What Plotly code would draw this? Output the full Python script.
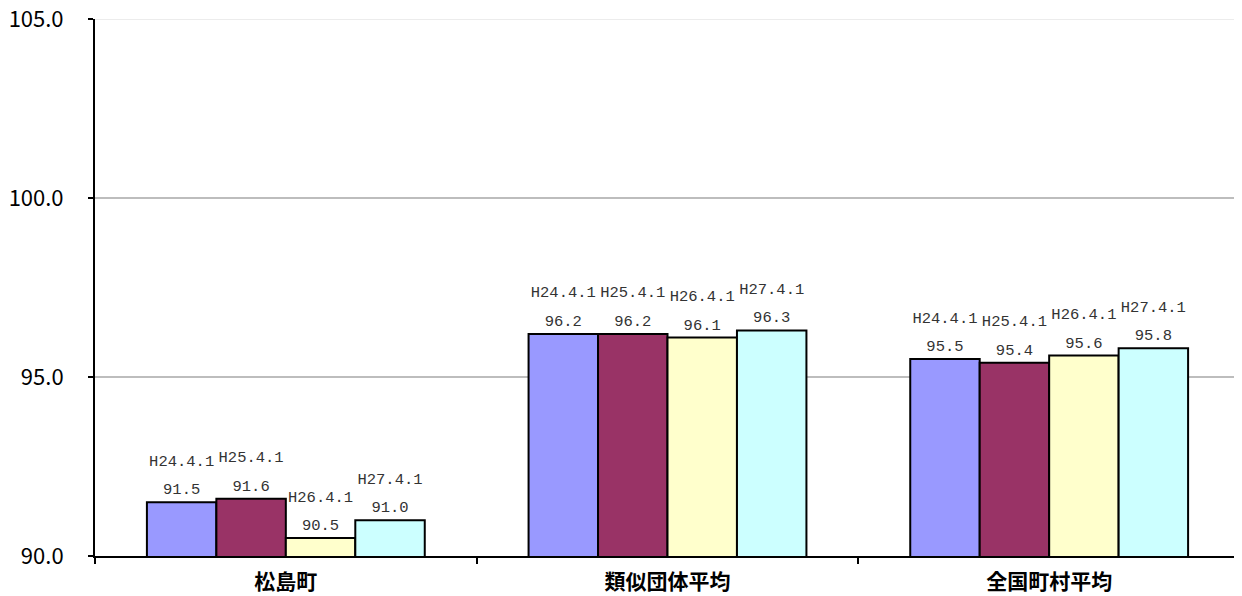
import plotly.graph_objects as go

categories = ["松島町", "類似団体平均", "全国町村平均"]
series_names = ["H24.4.1", "H25.4.1", "H26.4.1", "H27.4.1"]
values = {
    "H24.4.1": [91.5, 96.2, 95.5],
    "H25.4.1": [91.6, 96.2, 95.4],
    "H26.4.1": [90.5, 96.1, 95.6],
    "H27.4.1": [91.0, 96.3, 95.8],
}
colors = ["#9999FF", "#993366", "#FFFFCC", "#CCFFFF"]

fig = go.Figure()
for name, col in zip(series_names, colors):
    fig.add_trace(go.Bar(
        x=categories, y=values[name], name=name,
        marker=dict(color=col, line=dict(color="black", width=2)),
        customdata=[name] * len(categories),
        texttemplate="<span style='font-size:15.5px'>%{customdata}<br>%{y:.1f}</span>",
        textposition="outside",
        constraintext="none",
        textfont=dict(family="Liberation Mono, monospace", size=22, color="#333333"),
        cliponaxis=False,
    ))

fig.add_shape(type="line", xref="paper", yref="y", x0=0, x1=1, y0=105, y1=105,
              line=dict(color="#E6E6E6", width=1.5), layer="below")

fig.update_layout(
    width=1242, height=596,
    margin=dict(l=87, r=10, t=11, b=48),
    barmode="group", bargap=0.272, bargroupgap=0,
    plot_bgcolor="white", paper_bgcolor="white",
    showlegend=False,
    font=dict(family="Noto Sans CJK JP, sans-serif", color="black"),
)
fig.update_xaxes(
    automargin=False,
    showline=True, linecolor="black", linewidth=2,
    ticks="outside", tickson="boundaries", ticklen=6, tickcolor="black", tickwidth=1.5,
    ticklabelstandoff=6,
    tickfont=dict(family="Noto Sans CJK JP", size=21, color="black", weight="bold"),
)
fig.update_yaxes(
    automargin=False,
    range=[90, 105], dtick=5, tickformat=".1f",
    ticklabeloverflow="allow",
    showline=True, linecolor="black", linewidth=2,
    showgrid=True, gridcolor="#BDBDBD", gridwidth=1.5,
    ticks="outside", ticklen=5, tickcolor="black", tickwidth=2,
    ticklabelstandoff=20,
    tickfont=dict(family="Noto Sans CJK JP", size=22, color="black"),
    zeroline=False,
)
fig.write_html("out.html")
